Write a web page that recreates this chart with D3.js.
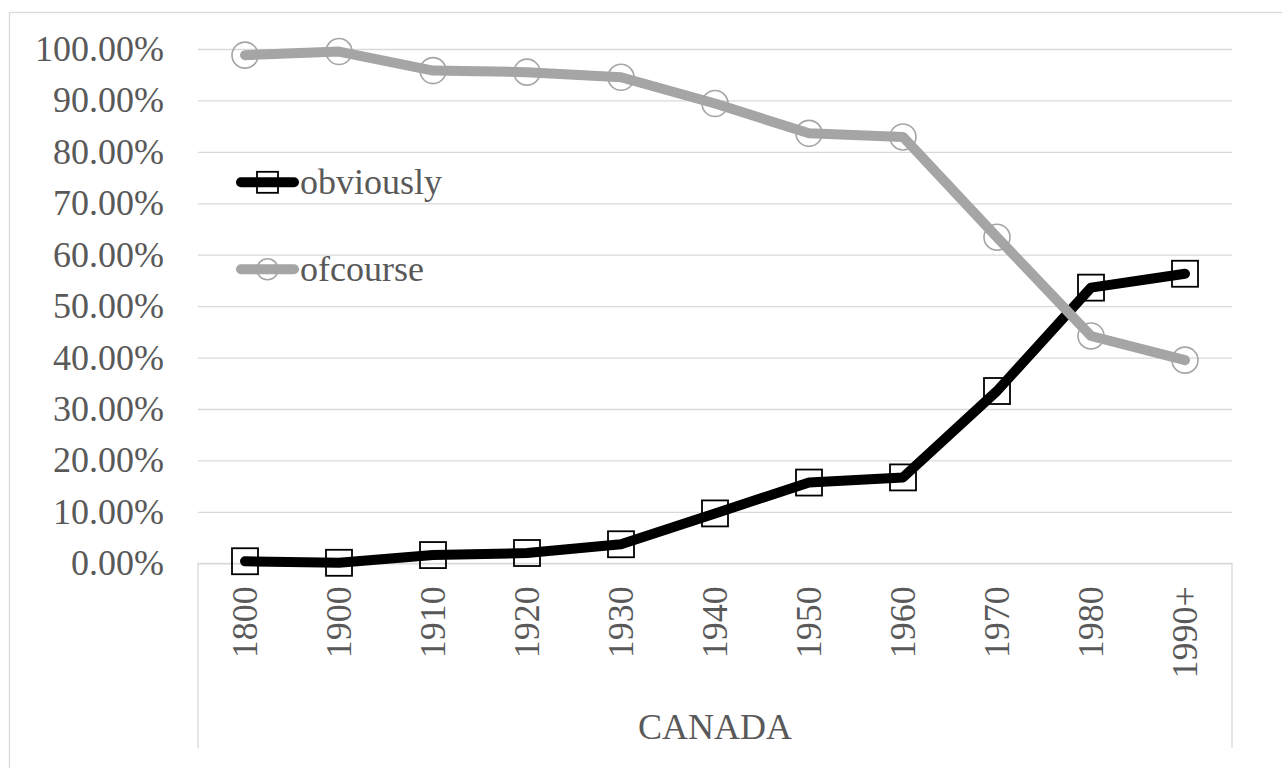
<!DOCTYPE html>
<html>
<head>
<meta charset="utf-8">
<script src="https://cdn.jsdelivr.net/npm/d3@7"></script>
<style>
  html, body { margin: 0; padding: 0; background: #ffffff; }
  svg { display: block; }
</style>
</head>
<body>
<svg id="chart" width="1282" height="768" font-family="Liberation Serif, serif"></svg>
<script>
// Share of each expression by decade (Canada)
const categories = ["1800", "1900", "1910", "1920", "1930", "1940", "1950", "1960", "1970", "1980", "1990+"];
const obviously = [0.004, 0.001, 0.016, 0.020, 0.037, 0.097, 0.157, 0.167, 0.335, 0.536, 0.563];
const ofcourse  = [0.988, 0.995, 0.958, 0.955, 0.945, 0.894, 0.836, 0.829, 0.634, 0.442, 0.395];
const yTicks = [0, 0.1, 0.2, 0.3, 0.4, 0.5, 0.6, 0.7, 0.8, 0.9, 1.0];
const groupLabel = "CANADA";

const series = [
  { name: "obviously", values: obviously, color: "#000000", marker: "square" },
  { name: "ofcourse",  values: ofcourse,  color: "#A5A5A5", marker: "circle" }
];

const FONT = "Liberation Serif, serif";
const TEXT_COLOR = "#595959";

const svg = d3.select("#chart");
const plot = { left: 198, right: 1232, top: 49, bottom: 563.3 };

const x = d3.scaleBand().domain(categories).range([plot.left, plot.right]).padding(0);
const y = d3.scaleLinear().domain([0, 1]).range([plot.bottom, plot.top]);
const fmt = d3.format(".2%");

function styleText(sel) {
  return sel.attr("font-family", FONT)
    .style("font-family", FONT)
    .attr("font-size", 36)
    .style("font-size", "36px")
    .attr("fill", TEXT_COLOR);
}

// Chart frame
svg.append("rect")
  .attr("x", 9.5).attr("y", 12.5)
  .attr("width", 1300).attr("height", 800)
  .attr("fill", "none").attr("stroke", "#D9D9D9").attr("stroke-width", 1.3);

// Horizontal gridlines + value labels
const yAxis = d3.axisLeft(y).tickValues(yTicks).tickFormat(fmt).tickSize(0).tickPadding(0);
const gy = svg.append("g").attr("transform", `translate(${plot.left},0)`).call(yAxis);
gy.attr("font-family", FONT).attr("font-size", 36);
gy.select(".domain").remove();
gy.selectAll(".tick line")
  .attr("x2", plot.right - plot.left)
  .attr("stroke", "#D9D9D9").attr("stroke-width", 1.3);
styleText(gy.selectAll(".tick text"))
  .attr("x", 164 - plot.left)
  .attr("dy", "0.32em");

// Category axis box
const boxBottom = 748;
svg.append("path")
  .attr("d", `M${plot.left},${boxBottom}V${plot.bottom}H${plot.right}V${boxBottom}`)
  .attr("fill", "none").attr("stroke", "#D9D9D9").attr("stroke-width", 1.3);

// Rotated category labels
const xAxis = d3.axisBottom(x).tickSize(0).tickPadding(0);
const gx = svg.append("g").attr("transform", `translate(0,${plot.bottom})`).call(xAxis);
gx.attr("font-family", FONT).attr("font-size", 36);
gx.select(".domain").remove();
gx.selectAll(".tick line").remove();
styleText(gx.selectAll(".tick text"))
  .attr("transform", "rotate(-90)")
  .attr("x", -23).attr("y", 0)
  .attr("dy", "0.33em")
  .attr("text-anchor", "end");

// Group label under the categories
styleText(svg.append("text"))
  .attr("x", (plot.left + plot.right) / 2)
  .attr("y", 739)
  .attr("text-anchor", "middle")
  .text(groupLabel);

const cx = (d, i) => x(categories[i]) + x.bandwidth() / 2;
const line = d3.line().x(cx).y(d => y(d));

// Lines
series.forEach(s => {
  svg.append("path")
    .datum(s.values)
    .attr("d", line)
    .attr("fill", "none")
    .attr("stroke", s.color)
    .attr("stroke-width", 10)
    .attr("stroke-linecap", "round")
    .attr("stroke-linejoin", "round");
});

// Markers
function drawMarker(g, type, color, px, py, size) {
  if (type === "square") {
    g.append("rect")
      .attr("x", px - size / 2).attr("y", py - size / 2)
      .attr("width", size).attr("height", size)
      .attr("fill", "none").attr("stroke", color).attr("stroke-width", 1.8);
  } else {
    g.append("circle")
      .attr("cx", px).attr("cy", py).attr("r", size / 2)
      .attr("fill", "none").attr("stroke", color).attr("stroke-width", 1.6);
  }
}
series.forEach(s => {
  const g = svg.append("g");
  s.values.forEach((v, i) => drawMarker(g, s.marker, s.color, cx(v, i), y(v), 26));
});

// Legend
const legend = svg.append("g");
const legendRows = [182.3, 269.3];
series.forEach((s, i) => {
  const ly = legendRows[i];
  legend.append("line")
    .attr("x1", 241).attr("x2", 294).attr("y1", ly).attr("y2", ly)
    .attr("stroke", s.color).attr("stroke-width", 10).attr("stroke-linecap", "round");
  drawMarker(legend, s.marker, s.color, 267.5, ly, 21);
  styleText(legend.append("text"))
    .attr("x", 300).attr("y", ly + 11.5)
    .text(s.name);
});
</script>
</body>
</html>
